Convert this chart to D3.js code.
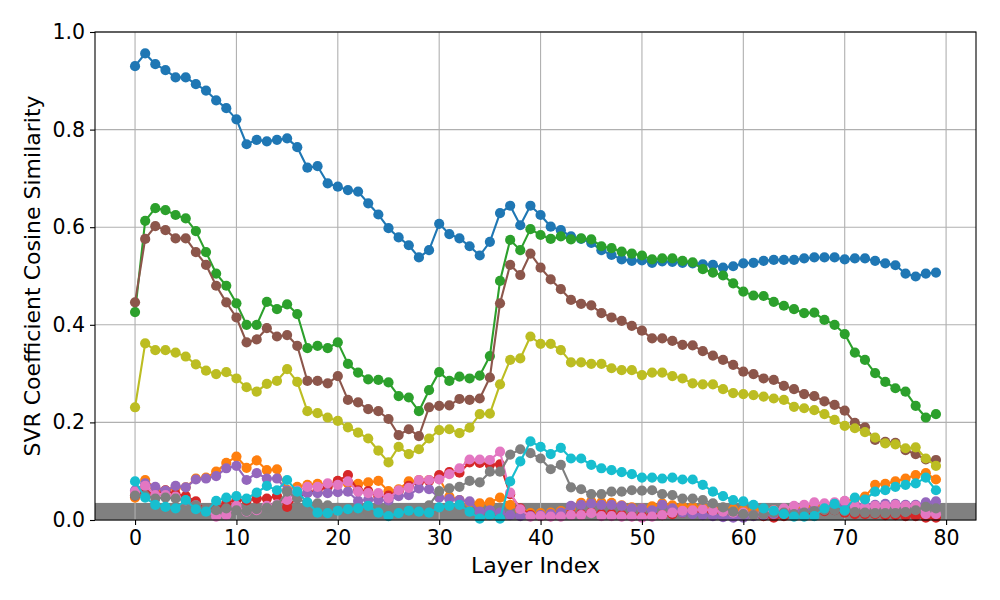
<!DOCTYPE html>
<html>
<head>
<meta charset="utf-8">
<script src="https://cdn.jsdelivr.net/npm/d3@7/dist/d3.min.js"></script>
<style>
  html, body { margin: 0; padding: 0; background: #fff; }
  svg { display: block; font-family: "DejaVu Sans", sans-serif; }
</style>
</head>
<body>
<svg id="chart" width="1000" height="600"></svg>
<script>
// ---- data ----
const layers = d3.range(0, 80);
const xTicks = [0, 10, 20, 30, 40, 50, 60, 70, 80];
const yTicks = [0.0, 0.2, 0.4, 0.6, 0.8, 1.0];
const bandTop = 0.035;

const s0 = [0.930,0.956,0.934,0.922,0.907,0.907,0.893,0.880,0.860,0.844,0.821,0.770,0.779,0.776,0.779,0.782,0.764,0.722,0.725,0.690,
            0.683,0.676,0.673,0.649,0.626,0.598,0.579,0.563,0.538,0.553,0.607,0.586,0.577,0.561,0.542,0.570,0.629,0.644,0.604,0.644,
            0.625,0.601,0.594,0.581,0.576,0.568,0.553,0.543,0.534,0.531,0.532,0.527,0.530,0.529,0.527,0.526,0.524,0.523,0.517,0.520,
            0.526,0.527,0.531,0.533,0.533,0.533,0.536,0.538,0.538,0.538,0.534,0.536,0.536,0.531,0.526,0.522,0.505,0.499,0.505,0.507];
const s1 = [0.046,0.082,0.065,0.060,0.066,0.067,0.085,0.087,0.099,0.117,0.130,0.107,0.122,0.102,0.104,0.062,0.068,0.072,0.074,0.073,
            0.079,0.075,0.074,0.077,0.080,0.059,0.063,0.079,0.082,0.082,0.085,0.048,0.041,0.036,0.034,0.036,0.046,0.031,0.020,0.014,
            0.014,0.015,0.018,0.025,0.035,0.038,0.036,0.035,0.030,0.026,0.024,0.028,0.034,0.030,0.028,0.027,0.025,0.022,0.025,0.022,
            0.020,0.020,0.022,0.020,0.022,0.025,0.025,0.027,0.028,0.030,0.038,0.044,0.048,0.072,0.074,0.079,0.085,0.092,0.096,0.083];
const s2 = [0.426,0.613,0.639,0.635,0.625,0.618,0.592,0.549,0.505,0.480,0.444,0.400,0.400,0.447,0.432,0.442,0.422,0.352,0.357,0.352,
            0.364,0.320,0.302,0.288,0.287,0.282,0.254,0.251,0.223,0.266,0.303,0.285,0.294,0.290,0.296,0.336,0.490,0.574,0.553,0.596,
            0.584,0.576,0.581,0.575,0.577,0.575,0.561,0.557,0.550,0.546,0.542,0.534,0.536,0.536,0.531,0.528,0.514,0.507,0.501,0.485,
            0.468,0.460,0.459,0.447,0.439,0.432,0.424,0.425,0.410,0.400,0.381,0.343,0.328,0.301,0.283,0.270,0.263,0.234,0.210,0.217];
const s3 = [0.050,0.058,0.053,0.061,0.053,0.049,0.038,0.020,0.022,0.035,0.041,0.040,0.044,0.044,0.049,0.027,0.045,0.056,0.060,0.068,
            0.080,0.092,0.061,0.059,0.048,0.050,0.059,0.070,0.078,0.080,0.092,0.098,0.097,0.118,0.117,0.113,0.114,0.053,0.024,0.010,
            0.008,0.008,0.010,0.012,0.012,0.015,0.012,0.012,0.010,0.008,0.008,0.010,0.010,0.012,0.015,0.018,0.018,0.017,0.020,0.015,
            0.012,0.010,0.008,0.005,0.008,0.010,0.012,0.015,0.018,0.020,0.015,0.012,0.012,0.012,0.010,0.010,0.008,0.008,0.005,0.005];
const s4 = [0.061,0.075,0.068,0.060,0.070,0.067,0.083,0.085,0.090,0.106,0.111,0.082,0.096,0.085,0.085,0.060,0.052,0.055,0.055,0.055,
            0.057,0.058,0.039,0.042,0.041,0.040,0.049,0.051,0.065,0.063,0.046,0.043,0.041,0.038,0.017,0.020,0.015,0.010,0.008,0.008,
            0.010,0.012,0.015,0.029,0.031,0.034,0.031,0.031,0.029,0.024,0.024,0.020,0.031,0.024,0.015,0.012,0.010,0.008,0.006,0.005,
            0.005,0.008,0.010,0.012,0.015,0.018,0.020,0.022,0.025,0.028,0.030,0.032,0.030,0.031,0.033,0.033,0.031,0.031,0.036,0.038];
const s5 = [0.446,0.576,0.602,0.594,0.577,0.577,0.549,0.523,0.480,0.446,0.415,0.364,0.370,0.393,0.376,0.379,0.357,0.285,0.285,0.280,
            0.295,0.246,0.241,0.227,0.223,0.207,0.174,0.186,0.172,0.231,0.234,0.235,0.248,0.246,0.249,0.292,0.444,0.523,0.502,0.546,
            0.517,0.493,0.473,0.451,0.443,0.440,0.424,0.415,0.408,0.398,0.388,0.372,0.372,0.367,0.359,0.358,0.346,0.337,0.328,0.318,
            0.304,0.299,0.290,0.287,0.275,0.268,0.258,0.254,0.243,0.236,0.224,0.199,0.190,0.164,0.160,0.158,0.143,0.135,0.124,0.123];
const s6 = [0.058,0.070,0.051,0.051,0.048,0.040,0.030,0.020,0.007,0.010,0.029,0.017,0.020,0.029,0.032,0.041,0.060,0.068,0.068,0.075,
            0.072,0.079,0.058,0.055,0.055,0.045,0.061,0.066,0.082,0.082,0.083,0.094,0.106,0.124,0.124,0.123,0.140,0.056,0.022,0.007,
            0.008,0.007,0.007,0.010,0.010,0.014,0.008,0.008,0.007,0.007,0.005,0.007,0.010,0.015,0.019,0.020,0.022,0.019,0.017,0.015,
            0.015,0.010,0.015,0.020,0.024,0.029,0.031,0.036,0.034,0.036,0.039,0.029,0.027,0.029,0.029,0.031,0.029,0.029,0.012,0.012];
const s7 = [0.050,0.050,0.044,0.046,0.044,0.040,0.030,0.022,0.020,0.024,0.020,0.018,0.022,0.025,0.030,0.058,0.044,0.035,0.034,0.030,
            0.025,0.020,0.018,0.015,0.012,0.010,0.012,0.015,0.018,0.030,0.059,0.065,0.068,0.080,0.077,0.099,0.099,0.134,0.145,0.137,
            0.126,0.104,0.113,0.067,0.063,0.053,0.053,0.058,0.058,0.061,0.060,0.061,0.053,0.051,0.044,0.044,0.041,0.034,0.026,0.017,
            0.012,0.010,0.012,0.015,0.015,0.012,0.015,0.018,0.020,0.020,0.018,0.016,0.015,0.014,0.014,0.014,0.016,0.020,0.027,0.024];
const s8 = [0.231,0.362,0.348,0.348,0.343,0.335,0.319,0.306,0.299,0.303,0.290,0.272,0.263,0.279,0.285,0.309,0.283,0.223,0.219,0.210,
            0.203,0.190,0.179,0.167,0.142,0.118,0.150,0.135,0.145,0.167,0.184,0.186,0.178,0.189,0.217,0.218,0.278,0.328,0.331,0.376,
            0.361,0.361,0.348,0.323,0.323,0.320,0.320,0.311,0.307,0.307,0.297,0.302,0.302,0.295,0.290,0.280,0.278,0.278,0.268,0.260,
            0.258,0.256,0.253,0.249,0.246,0.232,0.229,0.225,0.217,0.205,0.193,0.188,0.180,0.169,0.157,0.155,0.147,0.149,0.126,0.111];
const s9 = [0.079,0.046,0.031,0.027,0.024,0.041,0.022,0.017,0.039,0.046,0.049,0.044,0.056,0.070,0.061,0.082,0.058,0.036,0.015,0.014,
            0.019,0.022,0.024,0.029,0.015,0.008,0.014,0.019,0.017,0.015,0.026,0.029,0.031,0.017,0.003,0.010,0.003,0.079,0.120,0.161,
            0.150,0.135,0.148,0.126,0.126,0.113,0.106,0.102,0.098,0.094,0.087,0.087,0.085,0.087,0.083,0.083,0.072,0.058,0.049,0.041,
            0.038,0.031,0.024,0.019,0.012,0.007,0.007,0.008,0.024,0.033,0.020,0.046,0.042,0.058,0.061,0.068,0.072,0.075,0.087,0.061];

const seriesValues = [s0, s1, s2, s3, s4, s5, s6, s7, s8, s9];
const seriesColors = ["#1f77b4","#ff7f0e","#2ca02c","#d62728","#9467bd","#8c564b","#e377c2","#7f7f7f","#bcbd22","#17becf"];

// ---- layout ----
const margin = {left: 95, top: 32, right: 24, bottom: 80};
const W = 1000, H = 600;
const iw = W - margin.left - margin.right;   // 881
const ih = H - margin.top - margin.bottom;   // 488

const svg = d3.select("#chart");
const g = svg.append("g").attr("transform", `translate(${margin.left},${margin.top})`);

const x = d3.scaleLinear().domain([-3.95, 82.95]).range([0, iw]);
const y = d3.scaleLinear().domain([0, 1]).range([ih, 0]);

// shaded band
g.append("rect")
  .attr("x", 0).attr("width", iw)
  .attr("y", y(bandTop)).attr("height", y(0) - y(bandTop))
  .attr("fill", "#808080");

// grid
const grid = g.append("g");
grid.selectAll("line.gx").data(xTicks).join("line")
  .attr("x1", d => x(d)).attr("x2", d => x(d))
  .attr("y1", 0).attr("y2", ih)
  .attr("stroke", "#b0b0b0").attr("stroke-width", 1.1);
grid.selectAll("line.gy").data(yTicks).join("line")
  .attr("y1", d => y(d)).attr("y2", d => y(d))
  .attr("x1", 0).attr("x2", iw)
  .attr("stroke", "#b0b0b0").attr("stroke-width", 1.1);

// series
const line = d3.line().x((d, i) => x(layers[i])).y(d => y(d));
seriesValues.forEach((vals, k) => {
  const sg = g.append("g");
  sg.append("path").datum(vals)
    .attr("d", line)
    .attr("fill", "none")
    .attr("stroke", seriesColors[k])
    .attr("stroke-width", 2.1)
    .attr("stroke-linejoin", "round");
  sg.selectAll("circle").data(vals).join("circle")
    .attr("cx", (d, i) => x(layers[i]))
    .attr("cy", d => y(d))
    .attr("r", 5.1)
    .attr("fill", seriesColors[k]);
});

// axes
const xAxis = d3.axisBottom(x).tickValues(xTicks).tickFormat(d3.format("d")).tickSize(5).tickPadding(5);
const yAxis = d3.axisLeft(y).tickValues(yTicks).tickFormat(d3.format(".1f")).tickSize(5).tickPadding(5);

const gx = g.append("g").attr("transform", `translate(0,${ih})`).call(xAxis);
const gy = g.append("g").call(yAxis);
[gx, gy].forEach(a => {
  a.select(".domain").remove();
  a.selectAll(".tick line").attr("stroke", "#000").attr("stroke-width", 1.1);
  a.selectAll(".tick text").attr("fill", "#000")
    .style("font-family", "'DejaVu Sans', sans-serif").style("font-size", "20.5px");
});

// frame
g.append("rect").attr("x", 0).attr("y", 0).attr("width", iw).attr("height", ih)
  .attr("fill", "none").attr("stroke", "#000").attr("stroke-width", 1.1);

// labels
svg.append("text")
  .attr("x", margin.left + iw / 2).attr("y", 573)
  .attr("text-anchor", "middle")
  .style("font-size", "22px").attr("fill", "#000")
  .text("Layer Index");
svg.append("text")
  .attr("transform", `translate(40,${margin.top + ih / 2}) rotate(-90)`)
  .attr("text-anchor", "middle")
  .style("font-size", "22px").attr("fill", "#000")
  .text("SVR Coefficient Cosine Similarity");
</script>
</body>
</html>
